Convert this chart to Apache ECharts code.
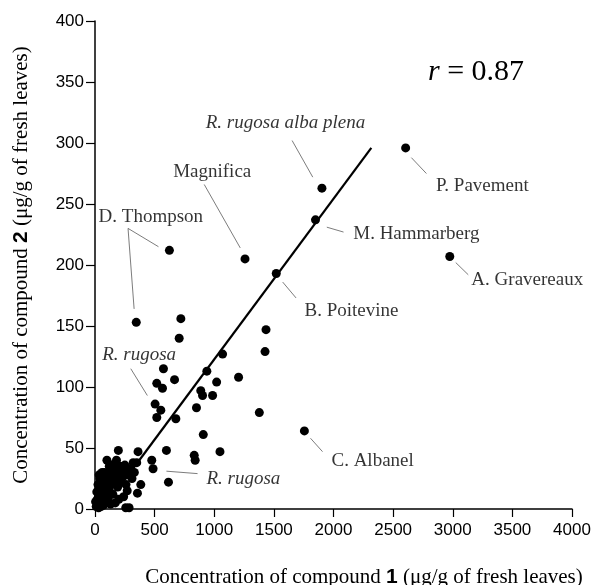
<!DOCTYPE html>
<html>
<head>
<meta charset="utf-8">
<script src="https://cdn.jsdelivr.net/npm/echarts@6/dist/echarts.min.js"></script>
<style>
  html, body { margin: 0; padding: 0; background: #fff; }
  #chart { width: 612px; height: 585px; }
</style>
</head>
<body>
<div id="chart"></div>
<script>
// compound 1 (x) and compound 2 (y), µg/g of fresh leaves
const compound1 = [
  2605, 2975, 1903, 1849, 1520, 1258, 624, 346, 1756,
  720, 706, 1070, 1434, 1426, 574, 667, 518, 566, 938, 1020, 1204, 887, 902, 986,
  504, 552, 518, 678, 851, 1378, 908, 196, 361, 599, 832, 840, 1048, 476, 487,
  616, 384, 356, 286, 258,
  10, 20, 30, 40, 50, 15, 60, 70, 80, 90, 100, 110, 120, 130, 140, 150, 160, 170,
  180, 190, 200, 210, 220, 230, 240, 250, 260, 270, 280, 300, 310, 320, 60, 70,
  90, 110, 130, 100, 50, 30, 200, 170, 240, 120, 150, 180, 330, 350, 40, 25,
  140, 160, 190, 210, 230, 260, 80, 110, 20, 45, 5, 35
];
const compound2 = [
  296, 207, 263, 237, 193, 205, 212, 153, 64,
  156, 140, 127, 147, 129, 115, 106, 103, 99, 113, 104, 108, 97, 93, 93,
  86, 81, 75, 74, 83, 79, 61, 48, 47, 48, 44, 40, 47, 40, 33,
  22, 20, 13, 1, 1,
  2, 5, 10, 18, 20, 14, 8, 3, 22, 15, 25, 30, 35, 28, 20, 12, 33, 36,
  25, 18, 30, 35, 22, 27, 32, 36, 20, 15, 28, 33, 25, 38, 30, 12,
  5, 8, 4, 40, 2, 1, 8, 5, 10, 15, 25, 40, 30, 38, 25, 20,
  36, 22, 30, 26, 34, 28, 30, 20, 8, 10, 6, 28
];

// regression line end points
const fitX = [250, 2317];
const fitY = [24, 296];

// annotations: text, anchor (x, y) and leader segments
const noteText = ['P. Pavement', 'A. Gravereaux', '{i|R. rugosa alba plena}', 'M. Hammarberg',
  'B. Poitevine', 'Magnifica', 'D. Thompson', 'C. Albanel', '{i|R. rugosa}', '{i|R. rugosa}'];
const noteX = [3248, 3625, 1597, 2695, 2151, 983, 468, 2328, 370, 1244];
const noteY = [265, 188, 316, 225, 162, 276, 239, 39, 126, 25];
const leaders = [
  [[2653, 288], [2779, 275]],
  [[3025, 202], [3130, 192]],
  [[1653, 302], [1826, 272]],
  [[1944, 231], [2084, 227]],
  [[1574, 186], [1686, 173]],
  [[916, 266], [1218, 214]],
  [[277, 230], [532, 215]],
  [[277, 230], [328, 164]],
  [[1807, 58], [1908, 47]],
  [[300, 115], [439, 93]],
  [[599, 31], [860, 29]]
];

const xTicks = [0, 500, 1000, 1500, 2000, 2500, 3000, 3500, 4000];
const yTicks = [0, 50, 100, 150, 200, 250, 300, 350, 400];

const serif = 'Liberation Serif';
const sans = 'Liberation Sans';

let chart = echarts.init(document.getElementById('chart'));

const points = compound1.map((x, i) => [x, compound2[i]]);
const notes = noteText.map((t, i) => ({ value: [noteX[i], noteY[i]], name: t }));

chart.setOption({
  animation: false,
  grid: { left: 95, right: 40, top: 21, bottom: 76 },
  xAxis: {
    type: 'value',
    min: xTicks[0],
    max: xTicks[xTicks.length - 1],
    interval: 500,
    splitLine: { show: false },
    axisLine: { onZero: false, lineStyle: { color: '#000', width: 1.5 } },
    axisTick: { length: 8, lineStyle: { color: '#000', width: 1.2 } },
    axisLabel: { color: '#000', fontFamily: sans, fontSize: 17, margin: 13, formatter: v => String(v) }
  },
  yAxis: {
    type: 'value',
    min: yTicks[0],
    max: yTicks[yTicks.length - 1],
    interval: 50,
    splitLine: { show: false },
    axisLine: { onZero: false, lineStyle: { color: '#000', width: 1.5 } },
    axisTick: { length: 9, lineStyle: { color: '#000', width: 1.2 } },
    axisLabel: { color: '#000', fontFamily: sans, fontSize: 17, margin: 11, formatter: v => String(v) },
    name: '{a|Concentration of compound }{b|2}{a| (μg/g of fresh leaves)}',
    nameLocation: 'middle',
    nameRotate: 90,
    nameGap: 63,
    nameTextStyle: {
      rich: {
        a: { fontFamily: serif, fontSize: 21, color: '#000' },
        b: { fontFamily: sans, fontWeight: 'bold', fontSize: 21, color: '#000' }
      }
    }
  },
  graphic: [
    {
      type: 'text',
      x: 364,
      y: 577,
      style: {
        text: '{a|Concentration of compound }{b|1}{a| (μg/g of fresh leaves)}',
        align: 'center',
        verticalAlign: 'middle',
        rich: {
          a: { fontFamily: serif, fontSize: 21, fill: '#000' },
          b: { fontFamily: sans, fontWeight: 'bold', fontSize: 21, fill: '#000' }
        }
      }
    },
    {
      type: 'text',
      x: 476,
      y: 72,
      style: {
        text: '{i|r}{a| = 0.87}',
        align: 'center',
        verticalAlign: 'middle',
        rich: {
          i: { fontFamily: serif, fontStyle: 'italic', fontSize: 30, fill: '#000' },
          a: { fontFamily: serif, fontSize: 30, fill: '#000' }
        }
      }
    }
  ],
  series: [
    {
      type: 'lines',
      coordinateSystem: 'cartesian2d',
      silent: true,
      data: leaders.map(c => ({ coords: c })),
      lineStyle: { color: '#444', width: 0.7, opacity: 1 },
      z: 1
    },
    {
      type: 'line',
      data: fitX.map((x, i) => [x, fitY[i]]),
      symbol: 'none',
      lineStyle: { color: '#000', width: 2.2 },
      z: 2
    },
    {
      type: 'scatter',
      data: points,
      symbolSize: 9,
      itemStyle: { color: '#000', opacity: 1 },
      z: 3
    },
    {
      type: 'scatter',
      data: notes,
      symbolSize: 0,
      silent: true,
      label: {
        show: true,
        position: 'inside',
        formatter: p => p.name,
        fontFamily: serif,
        fontSize: 19,
        color: '#000',
        rich: {
          i: { fontFamily: serif, fontStyle: 'italic', fontSize: 19, color: '#000' }
        }
      },
      z: 4
    }
  ]
});
</script>
</body>
</html>
